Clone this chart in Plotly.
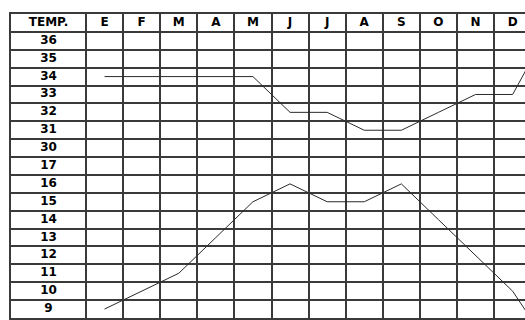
import plotly.graph_objects as go

# ── Data ────────────────────────────────────────────────────────────
MONTHS = ["E", "F", "M", "A", "M", "J", "J", "A", "S", "O", "N", "D"]
TEMP_LABELS = [9, 10, 11, 12, 13, 14, 15, 16, 17, 30, 31, 32, 33, 34, 35, 36]
# last value of each series continues past the cropped right edge
TEMP_MAX = [34, 34, 34, 34, 34, 32, 32, 31, 31, 32, 33, 33, 36.8]
TEMP_MIN = [9, 10, 11, 13, 15, 16, 15, 15, 16, 14, 12, 10, 6.9]

LINE = "#2a2a2a"
GRID = "#3a3a3a"
FONT = dict(family="DejaVu Sans", size=12, color="black", weight="bold")


def row_pos(v):
    """Broken scale: 9..17 sit on the bottom rows, 30..36 above them."""
    return (v - 9 + 0.5) if v <= 17 else (v - 21 + 0.5)


fig = go.Figure()

xs = [i + 0.5 for i in range(len(TEMP_MAX))]
for series in (TEMP_MAX, TEMP_MIN):
    fig.add_trace(go.Scatter(
        x=xs, y=[row_pos(v) for v in series],
        mode="lines", line=dict(color=LINE, width=1),
        hoverinfo="skip",
    ))

# header row
fig.add_trace(go.Scatter(
    x=[-1.01] + [i + 0.5 for i in range(len(MONTHS))],
    y=[16.5] * (len(MONTHS) + 1),
    text=["TEMP."] + MONTHS,
    mode="text", textfont=FONT, hoverinfo="skip",
))

# temperature labels in the first column
fig.add_trace(go.Scatter(
    x=[-1.01] * len(TEMP_LABELS),
    y=[row_pos(v) for v in TEMP_LABELS],
    text=[str(v) for v in TEMP_LABELS],
    mode="text", textfont=FONT, hoverinfo="skip",
))

fig.update_layout(
    width=525, height=320,
    margin=dict(l=11, r=0, t=14, b=2),
    plot_bgcolor="white", paper_bgcolor="white",
    showlegend=False,
    xaxis=dict(
        range=[-2.0216, 11.833], tickvals=list(range(0, 12)),
        showticklabels=False, ticks="", zeroline=False,
        showgrid=True, gridcolor=GRID, gridwidth=1.5,
        showline=True, linecolor=GRID, linewidth=1.5, mirror=True,
    ),
    yaxis=dict(
        range=[0, 17], tickvals=list(range(1, 17)),
        showticklabels=False, ticks="", zeroline=False,
        showgrid=True, gridcolor=GRID, gridwidth=1.5,
        showline=True, linecolor=GRID, linewidth=1.5,
    ),
)

# drop the default page margin so the figure fills the window
fig.write_html(
    "out.html",
    config={"displayModeBar": False},
    post_script="document.body.style.margin='0';document.body.style.overflow='hidden';",
)
